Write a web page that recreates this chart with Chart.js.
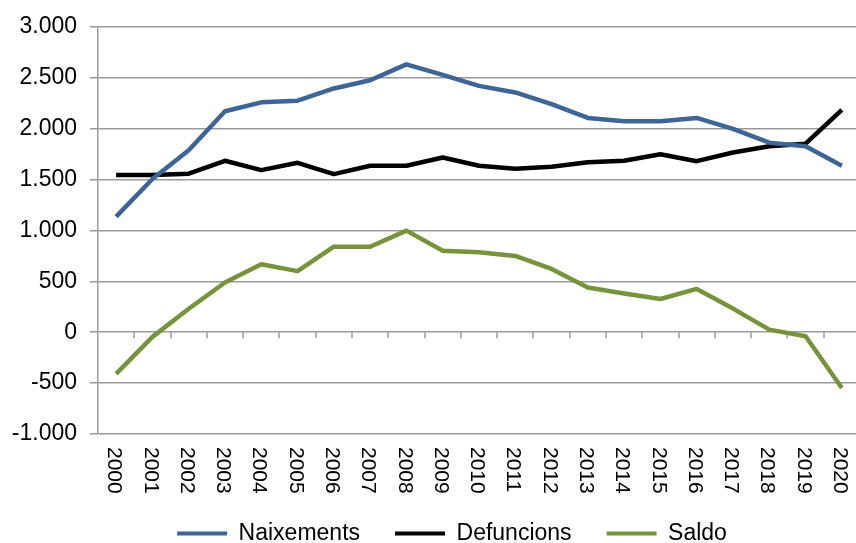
<!DOCTYPE html>
<html>
<head>
<meta charset="utf-8">
<script src="https://cdn.jsdelivr.net/npm/chart.js@4"></script>
<style>
  html, body { margin: 0; padding: 0; background: #fff; overflow: hidden; }
  #wrap { width: 860px; height: 555px; position: relative; }
</style>
</head>
<body>
<div id="wrap"><canvas id="chart"></canvas></div>
<script>
// Values
const years = ['2000', '2001', '2002', '2003', '2004', '2005', '2006', '2007', '2008', '2009', '2010',
               '2011', '2012', '2013', '2014', '2015', '2016', '2017', '2018', '2019', '2020'];
const naixements = [1135, 1505, 1787, 2170, 2258, 2274, 2394, 2475, 2631, 2527, 2420,
                    2355, 2241, 2105, 2073, 2073, 2105, 1998, 1862, 1826, 1635];
const defuncions = [1545, 1545, 1557, 1684, 1592, 1664, 1553, 1635, 1635, 1716, 1635,
                    1606, 1625, 1670, 1684, 1748, 1680, 1765, 1826, 1852, 2183];
const saldo = [-410, -46, 230, 488, 667, 600, 840, 840, 998, 800, 786,
               749, 622, 440, 380, 326, 425, 232, 25, -40, -548];

const yMin = -1000, yMax = 3000, yStep = 500;

const gridColor = '#9a9a9a';
const fontFamily = '"Liberation Sans", Arial, sans-serif';

// 3000 -> "3.000"
function fmt(v) {
  const s = String(Math.abs(v)).replace(/\B(?=(\d{3})+(?!\d))/g, '.');
  return (v < 0 ? '-' : '') + s;
}

function series(label, data, color) {
  return {
    label, data,
    borderColor: color, backgroundColor: color,
    borderWidth: 4.5,
    pointBorderColor: color, pointBackgroundColor: color, pointBorderWidth: 4
  };
}

// x axis: small tick marks on the zero line, labels rotated clockwise under the plot
const xAxisPlugin = {
  id: 'xAxisExcel',
  beforeDatasetsDraw(chart) {
    const ctx = chart.ctx, x = chart.scales.x, y = chart.scales.y;
    const y0 = y.getPixelForValue(0);
    const step = x.getPixelForValue(1) - x.getPixelForValue(0);
    ctx.save();
    ctx.strokeStyle = gridColor;
    ctx.lineWidth = 1.5;
    ctx.beginPath();
    for (let i = 1; i <= years.length; i++) {
      const px = x.getPixelForValue(i - 1) + step / 2;
      ctx.moveTo(Math.round(px), y0);
      ctx.lineTo(Math.round(px), y0 + 6);
    }
    ctx.stroke();
    ctx.restore();
  },
  afterDraw(chart) {
    const ctx = chart.ctx, x = chart.scales.x;
    ctx.save();
    ctx.fillStyle = '#000';
    ctx.font = '21px ' + fontFamily;
    ctx.textAlign = 'left';
    ctx.textBaseline = 'middle';
    years.forEach((lab, i) => {
      ctx.save();
      ctx.translate(x.getPixelForValue(i) - 2, x.top + 13);
      ctx.rotate(Math.PI / 2);
      ctx.fillText(lab, 0, 0);
      ctx.restore();
    });
    ctx.restore();
  },
  afterLayout(chart) {
    // nudge the legend to where the reference has it
    chart.legend.left += 22;
    chart.legend.right += 22;
  }
};

new Chart(document.getElementById('chart'), {
  type: 'line',
  data: {
    labels: years,
    datasets: [
      series('Naixements', naixements, '#3d6595'),
      series('Defuncions', defuncions, '#000000'),
      series('Saldo', saldo, '#77933c')
    ]
  },
  options: {
    responsive: true,
    maintainAspectRatio: false,
    animation: false,
    events: [],
    elements: {
      line: { tension: 0, fill: false, borderJoinStyle: 'round' },
      point: { radius: 0, hoverRadius: 0 }
    },
    layout: { padding: { top: 22, left: 0, right: 0, bottom: 0 } },
    plugins: {
      tooltip: { enabled: false },
      legend: {
        position: 'bottom',
        labels: {
          usePointStyle: true,
          pointStyle: 'line',
          pointStyleWidth: 50,
          padding: 35,
          color: '#000',
          font: { family: fontFamily, size: 23 }
        }
      }
    },
    scales: {
      x: {
        type: 'category',
        offset: true,
        grid: { display: false },
        border: { display: false },
        ticks: { display: false },
        afterFit(s) { s.height = 53; }
      },
      y: {
        min: yMin,
        max: yMax,
        afterFit(s) { s.width = 98; },
        ticks: {
          stepSize: yStep,
          color: '#000',
          padding: 13,
          font: { family: fontFamily, size: 23 },
          callback: (v) => fmt(v)
        },
        grid: { color: gridColor, lineWidth: 1.5, tickLength: 8, drawTicks: true },
        border: { display: true, color: gridColor, width: 1.5 }
      }
    }
  },
  plugins: [xAxisPlugin]
});
</script>
</body>
</html>
